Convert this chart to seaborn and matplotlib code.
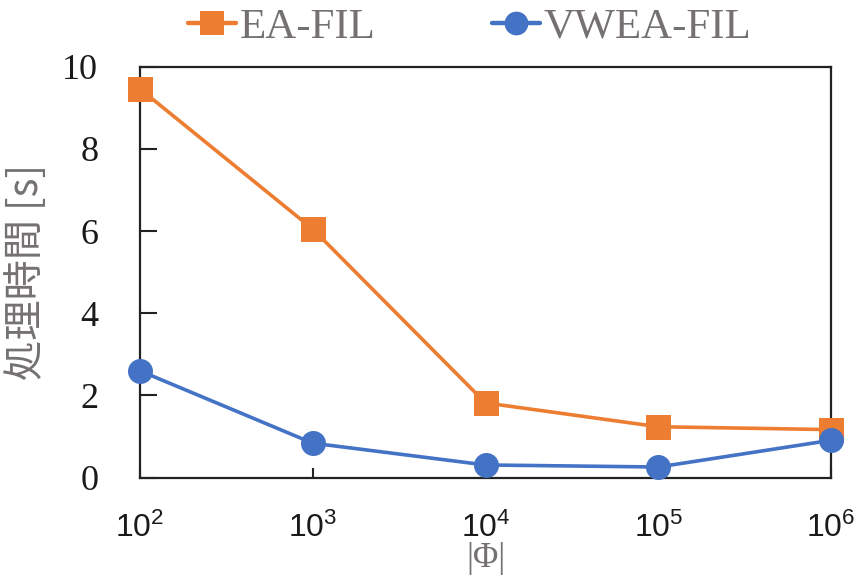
import matplotlib
matplotlib.use("Agg")
import matplotlib.pyplot as plt
import seaborn as sns
import pandas as pd

# Data
sizes = ["$10^2$", "$10^3$", "$10^4$", "$10^5$", "$10^6$"]
ea_fil = [9.46, 6.05, 1.82, 1.24, 1.17]
vwea_fil = [2.60, 0.84, 0.31, 0.26, 0.91]
y_ticks = [0, 2, 4, 6, 8, 10]

ORANGE = "#ED7D31"
BLUE = "#4472C4"
GRAY = "#757171"

sns.set_theme(style="white")
plt.rcParams["mathtext.fontset"] = "custom"
plt.rcParams["mathtext.rm"] = "Liberation Sans"
plt.rcParams["mathtext.it"] = "Liberation Sans"

df = pd.DataFrame({
    "pos": list(range(len(sizes))) * 2,
    "time": ea_fil + vwea_fil,
    "method": ["EA-FIL"] * len(sizes) + ["VWEA-FIL"] * len(sizes),
})

fig = plt.figure(figsize=(8.6, 5.77), dpi=100)
ax = fig.add_axes([140 / 860, 1 - 477.7 / 577, (831 - 140) / 860, (477.7 - 66.7) / 577])

sns.lineplot(data=df[df.method == "EA-FIL"], x="pos", y="time", ax=ax,
             color=ORANGE, marker="s", markersize=18, linewidth=2.6,
             markeredgewidth=0, label="EA-FIL", clip_on=False, zorder=3)
sns.lineplot(data=df[df.method == "VWEA-FIL"], x="pos", y="time", ax=ax,
             color=BLUE, marker="o", markersize=18, linewidth=2.6,
             markeredgewidth=0, label="VWEA-FIL", clip_on=False, zorder=4)

ax.set_xlim(0, len(sizes) - 1)
ax.set_ylim(0, 10)
ax.set_xticks(range(len(sizes)))
ax.set_xticklabels(sizes, fontsize=23, color="#1a1a1a")
ax.set_yticks(y_ticks)
ax.set_yticklabels([str(v) for v in y_ticks], fontsize=26,
                   family="Liberation Serif", color="#1a1a1a")

ax.tick_params(axis="y", direction="in", length=12, width=1.5, color="#222222",
               pad=30, left=True)
ax.tick_params(axis="x", direction="in", length=7, width=1.5, color="#222222",
               pad=25, bottom=True)

for sp in ax.spines.values():
    sp.set_visible(True)
    sp.set_color("#222222")
    sp.set_linewidth(1.6)

ax.set_xlabel("|Φ|", fontsize=25, family="Liberation Serif", color=GRAY, labelpad=-1)
ax.set_ylabel("処理時間 [s]", fontsize=29, family=["Noto Sans CJK JP", "DejaVu Sans"],
              color=GRAY, labelpad=11)

leg = ax.legend(loc="center", bbox_to_anchor=(470 / 860, 1 - 27 / 577),
                bbox_transform=fig.transFigure, ncol=2, frameon=False,
                prop={"family": "Liberation Serif", "size": 31},
                handlelength=1.1, handletextpad=0.1, columnspacing=2.7,
                markerscale=0.95)
for t in leg.get_texts():
    t.set_color(GRAY)
for ln in leg.get_lines():
    ln.set_linewidth(3.2)

fig.savefig("out.png", dpi=100)
